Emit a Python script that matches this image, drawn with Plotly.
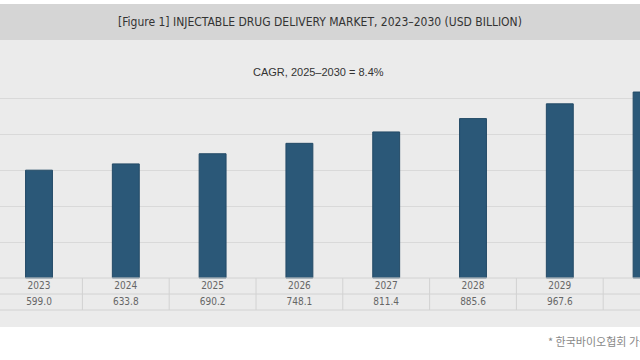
import plotly.graph_objects as go

years = ["2023", "2024", "2025", "2026", "2027", "2028", "2029", "2030"]
values = [599.0, 633.8, 690.2, 748.1, 811.4, 885.6, 967.6, 1033.1]
value_labels = ["599.0", "633.8", "690.2", "748.1", "811.4", "885.6", "967.6", "1033.1"]
grid_vals = [200, 400, 600, 800, 1000]

title_text = "[Figure 1] INJECTABLE DRUG DELIVERY MARKET, 2023\u20132030 (USD BILLION)"
cagr_text = "CAGR, 2025\u20132030 = 8.4%"
note_text = "* 한국바이오협회 가공"

W, H = 640, 360
body_top, body_bottom = 40, 327
base_px = 278
px_per_unit = 0.18
row1_px, row2_px, row3_px = 278, 294, 310

def y_of(px):
    return (base_px - px) / px_per_unit

plot_h = body_bottom - body_top
def paper_y(px):
    return (body_bottom - px) / plot_h

col_px = 86.8
first_center = 39
x_lo = -first_center / col_px
x_hi = x_lo + W / col_px

narrow = "DejaVu Sans Condensed, Liberation Sans Narrow, Liberation Sans, sans-serif"

fig = go.Figure()
fig.add_trace(go.Bar(
    x=years, y=values, width=0.31,
    marker=dict(color="#2b5878", line=dict(color="#234a66", width=1)),
    hoverinfo="skip", showlegend=False,
))
fig.add_trace(go.Scatter(
    x=years, y=[y_of((row1_px + row2_px) / 2 + 0.5)] * len(years),
    mode="text", text=years, textposition="middle center",
    textfont=dict(family=narrow, size=10, color="#666666"),
    cliponaxis=False, hoverinfo="skip", showlegend=False,
))
fig.add_trace(go.Scatter(
    x=years, y=[y_of((row2_px + row3_px) / 2 + 0.5)] * len(years),
    mode="text", text=value_labels, textposition="middle center",
    textfont=dict(family=narrow, size=10, color="#666666"),
    cliponaxis=False, hoverinfo="skip", showlegend=False,
))

shapes = [
    dict(type="rect", xref="paper", yref="paper", x0=0, x1=1, y0=paper_y(40), y1=paper_y(4),
         line=dict(width=0), fillcolor="#d5d5d5", layer="below"),
    dict(type="rect", xref="paper", yref="paper", x0=0, x1=1, y0=paper_y(327), y1=paper_y(40),
         line=dict(width=0), fillcolor="#ebebeb", layer="below"),
]
for px in (row1_px, row2_px, row3_px):
    shapes.append(dict(type="line", xref="paper", yref="y", x0=0, x1=1,
                       y0=y_of(px), y1=y_of(px), line=dict(color="#d2d2d2", width=1)))
for i in range(len(years)):
    shapes.append(dict(type="line", xref="x", yref="y", x0=i + 0.5, x1=i + 0.5,
                       y0=y_of(row1_px), y1=y_of(row3_px), line=dict(color="#d2d2d2", width=1)))

annotations = [
    dict(x=0.5, y=paper_y(22), xref="paper", yref="paper", text=title_text,
         showarrow=False, xanchor="center", yanchor="middle",
         font=dict(family=narrow, size=12, color="#333333")),
    dict(x=318 / W, y=paper_y(72), xref="paper", yref="paper", text=cagr_text,
         showarrow=False, xanchor="center", yanchor="middle",
         font=dict(family="Liberation Sans, Arial, sans-serif", size=11, color="#333333")),
    dict(x=546 / W, y=paper_y(341), xref="paper", yref="paper", text=note_text,
         showarrow=False, xanchor="left", yanchor="middle",
         font=dict(family="Noto Sans CJK KR, sans-serif", size=11, color="#888888")),
]

fig.update_layout(
    width=W, height=H,
    margin=dict(l=0, r=0, t=body_top, b=H - body_bottom, pad=0),
    paper_bgcolor="white", plot_bgcolor="rgba(0,0,0,0)",
    shapes=shapes,
    annotations=annotations,
    xaxis=dict(type="category", range=[x_lo, x_hi], showgrid=False, showticklabels=False,
               zeroline=False, showline=False, ticks="", fixedrange=True),
    yaxis=dict(range=[y_of(body_bottom), y_of(body_top)], tickvals=grid_vals, showticklabels=False,
               showgrid=True, gridcolor="#d9d9d9", gridwidth=1, zeroline=False, showline=False,
               ticks="", fixedrange=True),
)

fig.write_html("out.html", config={"displayModeBar": False},
               post_script="document.body.style.margin='0';document.body.style.padding='0';")
